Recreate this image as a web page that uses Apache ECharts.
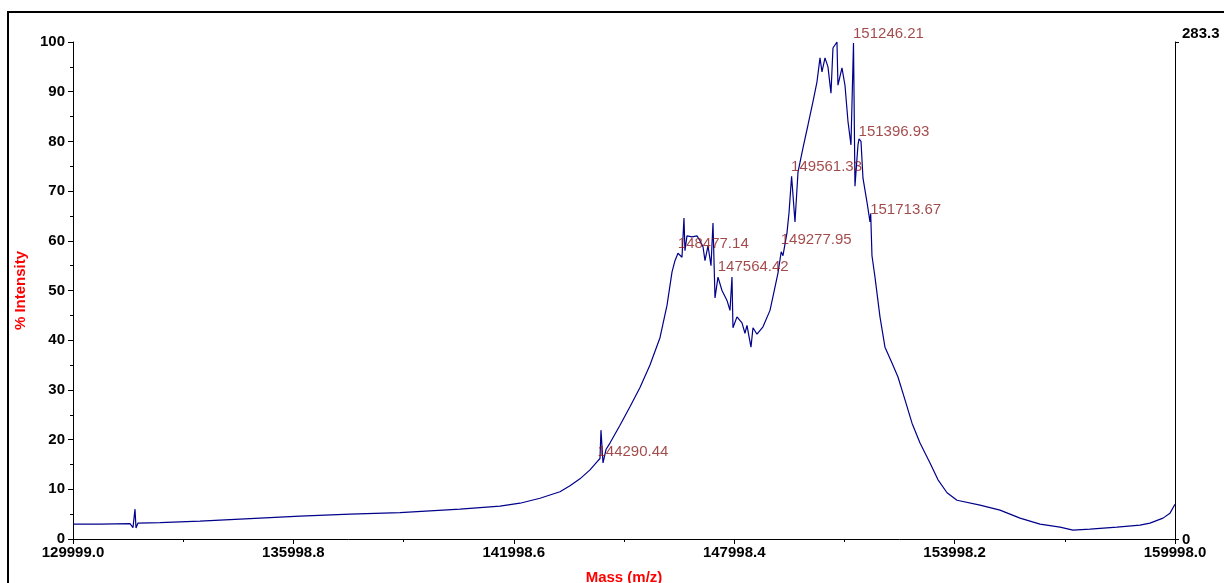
<!DOCTYPE html>
<html>
<head>
<meta charset="utf-8">
<script src="https://cdn.jsdelivr.net/npm/echarts@6/dist/echarts.min.js"></script>
<style>
html,body{margin:0;padding:0;background:#fff;}
#chart{width:1224px;height:583px;}
</style>
</head>
<body>
<div id="chart"></div>
<script>
// ---- data ----
const massMin = 129999.0;
const massMax = 159998.0;
const massTickStep = 5999.8;
const rightAxisMax = 283.3;

const massValues = [
  129999,130734,131551,131632,131687,131714,131768,132367,133456,134817,
  136179,137540,138900,140534,141623,142167,142711,143256,143528,143800,
  144073,144263,144345,144372,144427,144508,144617,144889,145161,145434,
  145706,145978,146169,146305,146386,146468,146577,146631,146658,146713,
  146849,146985,147067,147149,147203,147285,147367,147421,147476,147557,
  147666,147802,147884,147938,147965,148074,148210,148292,148346,148455,
  148510,148619,148782,148973,149109,149190,149278,149326,149435,149490,
  149561,149653,149735,149871,150007,150143,150252,150334,150388,150470,
  150551,150633,150687,150796,150823,150932,151014,151096,151177,151246,
  151286,151368,151397,151450,151504,151613,151695,151714,151749,151831,
  151967,152103,152294,152457,152648,152839,153057,153329,153547,153792,
  154064,154690,155234,155779,156323,156868,157221,157684,158419,159045,
  159317,159671,159862,159998
];
const intensityValues = [
  3.0,3.0,3.1,2.3,6.0,2.2,3.2,3.3,3.6,4.1,
  4.6,5.0,5.3,6.0,6.6,7.2,8.2,9.5,10.7,12.1,
  13.9,15.5,16.2,21.9,15.3,18.0,19.3,22.9,26.6,30.5,
  35.0,40.5,47.0,53.7,56.0,57.5,56.7,64.6,58.0,61.0,
  60.8,61.0,60.0,58.8,56.0,59.0,55.0,63.6,48.5,52.7,
  50.0,48.0,46.0,52.7,42.5,44.7,43.5,41.4,43.0,38.6,
  42.5,41.2,42.7,46.0,50.7,53.5,57.8,57.0,61.6,65.6,
  73.0,63.8,73.8,78.7,83.3,88.0,92.0,96.8,94.0,96.8,
  95.0,89.7,98.8,100.0,91.3,94.8,91.3,84.0,79.3,99.8,
  71.0,79.3,80.5,80.0,72.6,67.8,63.8,65.5,57.0,52.7,
  44.7,38.6,35.4,32.6,28.0,23.3,19.3,15.3,11.9,9.3,
  7.8,6.8,5.8,4.2,3.0,2.4,1.8,2.0,2.4,2.8,
  3.2,4.2,5.2,7.0
];

const peakMasses = [151246.21,151396.93,149561.33,151713.67,146477.14,149277.95,147564.42,144290.44];
const peakIntensities = [100.0,80.4,73.3,64.7,57.8,58.5,53.2,16.0];
const peakLabels = ['151246.21','151396.93','149561.33','151713.67','148477.14','149277.95','147564.42','144290.44'];

const xAxisTitle = 'Mass (m/z)';
const yAxisTitle = '% Intensity';

// ---- build ----
const lineData = massValues.map((m, i) => [m - massMin, intensityValues[i]]);
const peakData = peakMasses.map((m, i) => ({value: [m - massMin, peakIntensities[i]], name: peakLabels[i]}));

const FONT = "'Liberation Sans', Arial, sans-serif";
const chart = echarts.init(document.getElementById('chart'), null, {renderer: 'canvas'});
chart.setOption({
  animation: false,
  backgroundColor: '#fff',
  grid: {left: 73, right: 49, top: 42, bottom: 44, containLabel: false, outerBoundsMode: 'none'},
  graphic: [{
    type: 'rect', silent: true, z: 100,
    shape: {x: 8, y: 12, width: 1400, height: 800},
    style: {fill: 'none', stroke: '#000', lineWidth: 2}
  }],
  xAxis: {
    type: 'value', min: 0, max: massMax - massMin, interval: massTickStep,
    name: xAxisTitle, nameLocation: 'middle', nameGap: 31,
    nameTextStyle: {color: '#ff0000', fontWeight: 'bold', fontSize: 15, fontFamily: FONT},
    axisLine: {show: true, lineStyle: {color: '#000', width: 1}},
    axisTick: {show: true, length: 5, lineStyle: {color: '#000'}},
    minorTick: {show: true, splitNumber: 2, length: 3, lineStyle: {color: '#000'}},
    splitLine: {show: false},
    axisLabel: {
      color: '#000', fontWeight: 'bold', fontSize: 15, fontFamily: FONT, margin: 6,
      showMinLabel: true, showMaxLabel: true,
      formatter: v => (v + massMin).toFixed(1)
    }
  },
  yAxis: [{
    type: 'value', min: 0, max: 100, interval: 10, position: 'left',
    name: yAxisTitle, nameLocation: 'middle', nameGap: 45, nameRotate: 90,
    nameTextStyle: {color: '#ff0000', fontWeight: 'bold', fontSize: 15, fontFamily: FONT},
    axisLine: {show: true, lineStyle: {color: '#000', width: 1}},
    axisTick: {show: true, length: 5, lineStyle: {color: '#000'}},
    minorTick: {show: true, splitNumber: 2, length: 3, lineStyle: {color: '#000'}},
    splitLine: {show: false},
    axisLabel: {color: '#000', fontWeight: 'bold', fontSize: 15, fontFamily: FONT, margin: 8}
  }, {
    type: 'value', min: 0, max: rightAxisMax, interval: rightAxisMax, position: 'right',
    axisLine: {show: true, lineStyle: {color: '#000', width: 1}},
    axisTick: {show: true, length: 4, lineStyle: {color: '#000'}},
    splitLine: {show: false},
    axisLabel: {
      color: '#000', fontWeight: 'bold', fontSize: 15, fontFamily: FONT, margin: 7,
      formatter: v => (v === 0 ? '{bot|0}' : '{top|' + v.toFixed(1) + '}'),
      rich: {
        top: {fontWeight: 'bold', fontSize: 15, fontFamily: FONT, color: '#000', padding: [0, 0, 16, 0]},
        bot: {fontWeight: 'bold', fontSize: 15, fontFamily: FONT, color: '#000', padding: [2, 0, 0, 0]}
      }
    }
  }],
  series: [{
    type: 'line', data: lineData, xAxisIndex: 0, yAxisIndex: 0,
    showSymbol: false, symbol: 'none', smooth: false,
    lineStyle: {color: '#00008b', width: 1.2}, z: 3
  }, {
    type: 'scatter', data: peakData, xAxisIndex: 0, yAxisIndex: 0,
    symbolSize: 1, itemStyle: {color: 'rgba(0,0,0,0)'}, z: 4,
    label: {
      show: true, position: [0, 0], align: 'left', verticalAlign: 'bottom',
      formatter: p => p.name, color: '#8b1c1c', fontSize: 15, fontFamily: FONT, lineHeight: 15
    }
  }]
});
</script>
</body>
</html>
